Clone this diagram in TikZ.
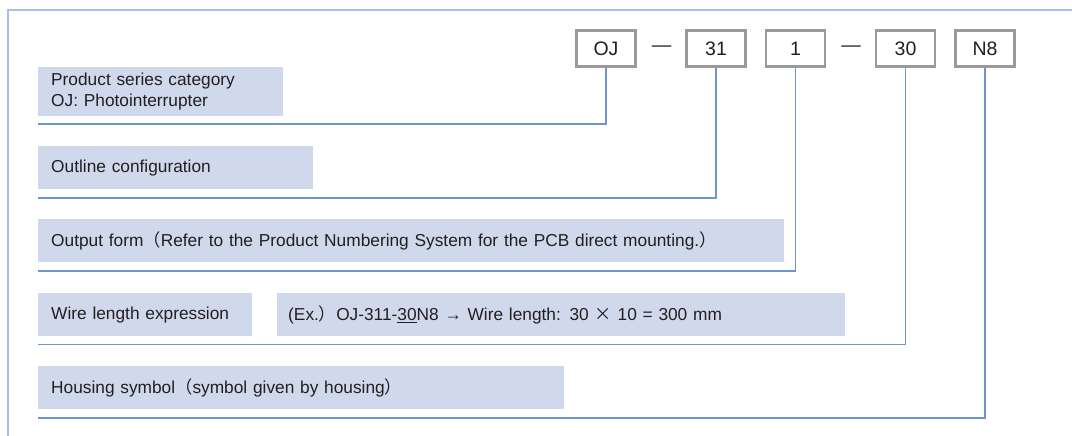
\documentclass[tikz,border=0pt]{standalone}
\usepackage{fontspec}
\setmainfont{Liberation Sans}
\newfontfamily\cjkfont{Noto Sans CJK JP}
\usetikzlibrary{positioning}
\definecolor{pnink}{HTML}{231F20}
\definecolor{pngray}{HTML}{9A9A9A}
\definecolor{pnfill}{HTML}{D0D9EC}
\definecolor{pnblue}{HTML}{6F95CF}
\definecolor{pnframe}{HTML}{A7BFE4}
\tikzset{
  pn text/.style={font=\fontsize{17.3}{21}\selectfont, text=pnink},
  pn code/.style={draw=pngray, line width=2.7pt, fill=white, minimum width=59pt,
    minimum height=36pt, inner sep=0pt, font=\fontsize{19.5}{22}\selectfont},
  pn dash/.style={font=\fontsize{19.5}{22}\selectfont, inner sep=0pt},
  pn field/.style={fill=pnfill, anchor=north west, inner xsep=13pt, inner ysep=0pt,
    align=left},
  pn lead/.style={draw=pnblue, line width=1.3pt},
  pn frame/.style={draw=pnframe, line width=2.5pt}
}
\begin{document}
\begin{tikzpicture}[pn text, x=1pt, y=-1pt]
  \useasboundingbox (0,0) rectangle (1072,436);
  \draw[pn frame] (8,436) -- (8,10) -- (1072,10);
  % part number
  \node[pn code] (oj) at (606,48.5) {OJ};
  \node[pn dash] (dash1) at (661.5,49) {—};
  \node[pn code] (shape) at (716,48.5) {31};
  \node[pn code] (output) at (795.5,48.5) {1};
  \node[pn dash] (dash2) at (851,49) {—};
  \node[pn code] (wire) at (905.5,48.5) {30};
  \node[pn code] (housing) at (985,48.5) {N8};
  % descriptions
  \node[pn field, text width=219pt, minimum height=49pt] (series text) at (38,67)
    {Product series category\\OJ: Photointerrupter};
  \node[pn field, text width=249pt, minimum height=43pt] (shape text) at (38,146)
    {Outline configuration};
  \node[pn field, text width=720pt, minimum height=43pt] (output text) at (38,219)
    {Output form{\cjkfont （}Refer to the Product Numbering System for the PCB direct mounting.{\cjkfont ）}};
  \node[pn field, text width=188pt, minimum height=43pt] (wire text) at (38,293)
    {Wire length expression};
  \node[pn field, inner xsep=11pt, text width=546pt, minimum height=43pt] (wire example) at (277,293)
    {(Ex.{\cjkfont ）}OJ-311-\underline{30}N8 → Wire length: 30 {\cjkfont ×} 10 = 300 mm};
  \node[pn field, text width=500pt, minimum height=43pt] (housing text) at (38,366)
    {Housing symbol{\cjkfont （}symbol given by housing{\cjkfont ）}};
  % leader lines
  \coordinate (series end) at (38,124);
  \coordinate (shape end) at (38,198);
  \coordinate (output end) at (38,271);
  \coordinate (wire end) at (38,344.5);
  \coordinate (housing end) at (38,418);
  \draw[pn lead] (oj.south) |- (series end);
  \draw[pn lead] (shape.south) |- (shape end);
  \draw[pn lead] (output.south) |- (output end);
  \draw[pn lead] (wire.south) |- (wire end);
  \draw[pn lead] (housing.south) |- (housing end);
\end{tikzpicture}
\end{document}
